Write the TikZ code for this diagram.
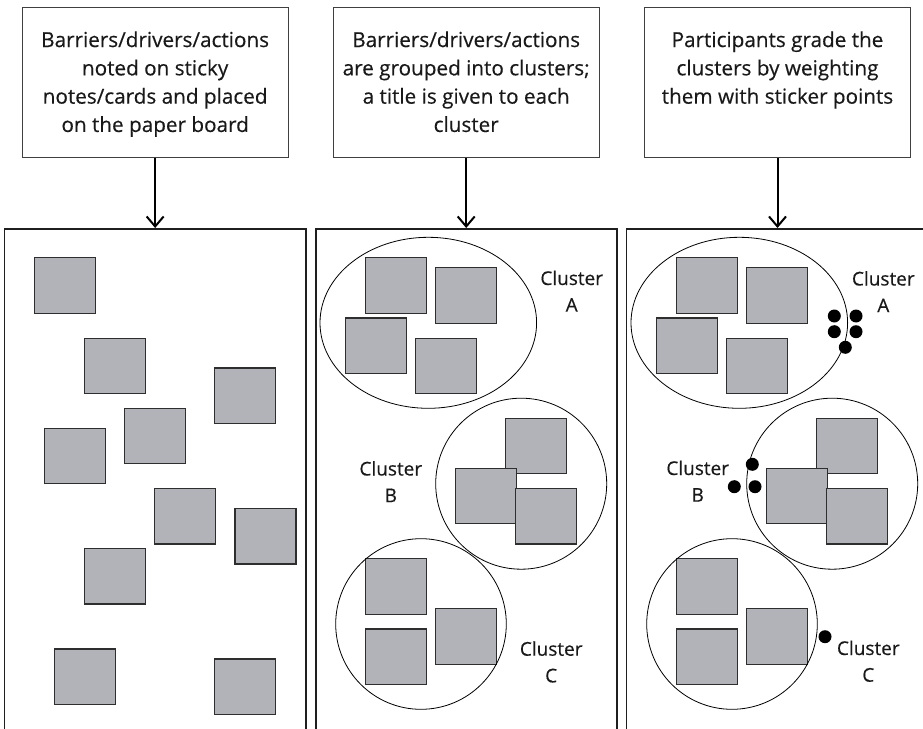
\documentclass[tikz,border=0pt]{standalone}
\usepackage{fontspec}
\setmainfont[FakeBold=0.35]{Open Sans}
\usetikzlibrary{arrows.meta,shapes.geometric}
\definecolor{cardgray}{RGB}{178,179,184}
% text of a step box: first baseline at the top of the box content
\newcommand\steptext[1]{\parbox[t]{266bp}{\centering\fontsize{20.7bp}{28.3bp}\selectfont #1}}
% two-line cluster caption
\newcommand\clustertext[1]{\parbox[t]{80bp}{\centering\fontsize{19bp}{26.7bp}\selectfont Cluster\\#1}}
\begin{document}
\begin{tikzpicture}[x=1bp,y=-1bp,
  stepbox/.style={draw=black!75, line width=1.1bp, inner sep=0pt, anchor=north,
    text height=39.2bp, text depth=110.8bp, text=black!90},
  board/.style={draw=black!88, line width=1.6bp, inner sep=0pt, anchor=north,
    minimum width=301.4bp, minimum height=540bp},
  card/.style={draw=black!82, line width=1.2bp, fill=cardgray, inner sep=0pt,
    minimum width=61bp, minimum height=55.5bp},
  ring/.style={draw=black, line width=0.8bp, ellipse, inner sep=0pt},
  sticker/.style={circle, fill=black, inner sep=0pt, minimum size=13bp},
  clabel/.style={inner sep=0pt, anchor=base, text=black!90},
  flow/.style={line width=2bp, -{Straight Barb[length=10bp,width=17bp]}}
]
\useasboundingbox (0,0) rectangle (923,729);
\clip (0,0) rectangle (923,729);

% step descriptions
\node[stepbox] (b1) at (155.15,7.3) {\steptext{Barriers/drivers/actions\\noted on sticky\\notes/cards and placed\\on the paper board}};
\node[stepbox] (b2) at (466.2,7.3) {\steptext{Barriers/drivers/actions\\are grouped into clusters;\\a title is given to each\\cluster}};
\node[stepbox] (b3) at (777.5,7.3) {\steptext{Participants grade the\\clusters by weighting\\them with sticker points}};

% paper boards
\node[board] (p1) at (155.1,228) {};
\node[board] (p2) at (466.5,228) {};
\node[board] (p3) at (777.1,228) {};

\draw[flow] (b1.south) -- (b1.south |- p1.north);
\draw[flow] (b2.south) -- (b2.south |- p2.north);
\draw[flow] (b3.south) -- (b3.south |- p3.north);

% loose notes on the first board
\foreach \n/\x/\y in {1/64.8/285.5, 2/115/366, 3/245.3/395.8, 4/154.8/436,
  5/74.8/456, 6/185.2/516.2, 7/265.5/536.2, 8/114.8/576.2, 9/84.8/676.7, 10/245.3/686.8}
  \node[card] (L\n) at (\x,\y) {};

% clustered notes on the second and third boards
\foreach \dx/\pf in {0/M, 311/R} {
  \begin{scope}[xshift=\dx bp]
    \node[card] (\pf-a1) at (395.8,285.5) {};
    \node[card] (\pf-a2) at (466.35,295.5) {};
    \node[card] (\pf-a3) at (375.8,345.7) {};
    \node[card] (\pf-a4) at (446,366) {};
    \node[card] (\pf-b1) at (536.35,446) {};
    \node[card] (\pf-b2) at (486,496) {};
    \node[card] (\pf-b3) at (546.35,516.2) {};
    \node[card] (\pf-c1) at (395.65,586.5) {};
    \node[card] (\pf-c2) at (395.65,656.7) {};
    \node[card] (\pf-c3) at (466.35,636.5) {};
    \node[ring, minimum width=216.6bp, minimum height=171bp] (\pf-A) at (428.3,322.8) {};
    \node[ring, minimum width=171bp, minimum height=171bp] (\pf-B) at (521.2,483.7) {};
    \node[ring, minimum width=170.6bp, minimum height=170.6bp] (\pf-C) at (421,624) {};
  \end{scope}
}

% cluster captions
\node[clabel] (M-lA) at (571.7,285) {\clustertext{A}};
\node[clabel] (M-lB) at (390.8,475.5) {\clustertext{B}};
\node[clabel] (M-lC) at (551.2,655.7) {\clustertext{C}};
\node[clabel] (R-lA) at (883.3,285.5) {\clustertext{A}};
\node[clabel] (R-lB) at (697.7,475) {\clustertext{B}};
\node[clabel] (R-lC) at (868.3,655) {\clustertext{C}};

% sticker points
\node[sticker] (sA1) at (834.3,316) {};
\node[sticker] (sA2) at (856,316) {};
\node[sticker] (sA3) at (834.3,331.7) {};
\node[sticker] (sA4) at (856,331.7) {};
\node[sticker] (sA5) at (845.3,347.3) {};
\node[sticker] (sB1) at (752.3,464.3) {};
\node[sticker] (sB2) at (734.3,486.7) {};
\node[sticker] (sB3) at (755,486.7) {};
\node[sticker] (sC1) at (825,636.7) {};
\end{tikzpicture}
\end{document}
